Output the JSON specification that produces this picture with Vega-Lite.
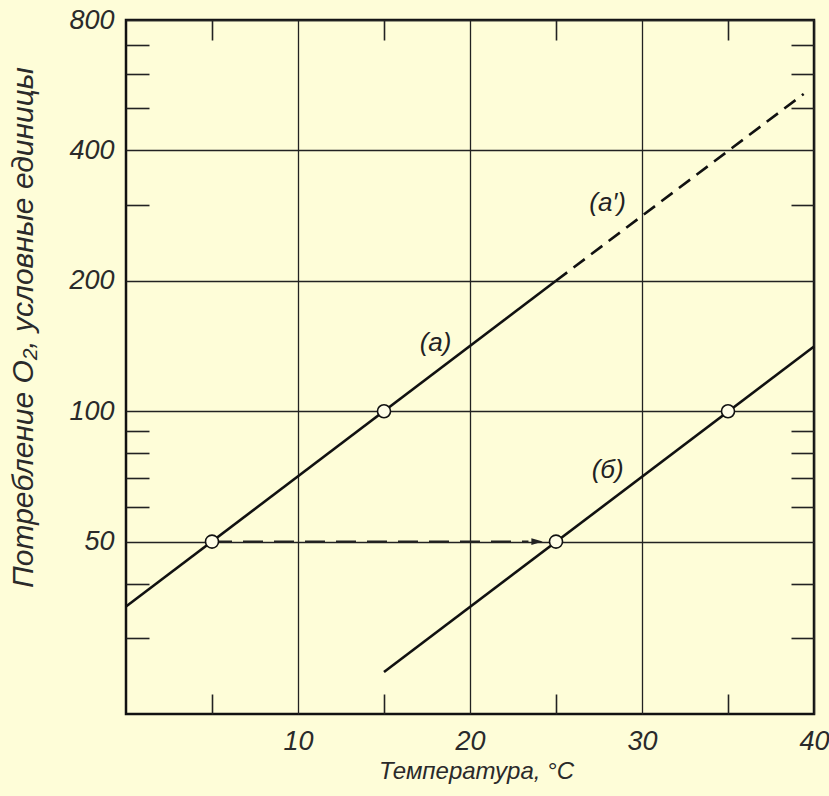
{
  "$schema": "https://vega.github.io/schema/vega-lite/v6.json",
  "width": 688,
  "height": 694,
  "autosize": "none",
  "padding": {"left": 126, "top": 20, "right": 15, "bottom": 82},
  "background": "#fefdd8",
  "config": {
    "view": {"stroke": "#111", "strokeWidth": 2.5},
    "font": "Liberation Sans",
    "axis": {
      "labelFont": "Liberation Sans", "labelFontStyle": "italic", "labelFontWeight": "normal", "labelFontSize": 27, "labelColor": "#2a2a2a",
      "titleFont": "Liberation Sans", "titleFontStyle": "italic", "titleFontWeight": "normal", "titleFontSize": 24, "titleColor": "#2a2a2a",
      "tickColor": "#222", "tickWidth": 1.6, "gridColor": "#222", "gridWidth": 1.3, "domain": false
    }
  },
  "datasets": {
    "lineA": [{"t": 0, "o2": 35.4}, {"t": 25, "o2": 200}],
    "lineA2": [{"t": 25, "o2": 200}, {"t": 39.4, "o2": 540}],
    "lineB": [{"t": 15, "o2": 25}, {"t": 40, "o2": 141}],
    "arrow": [{"t": 5, "o2": 50}, {"t": 23.4, "o2": 50}],
    "head": [{"t": 23.9, "o2": 50}],
    "pts": [{"t": 5, "o2": 50}, {"t": 15, "o2": 100}, {"t": 25, "o2": 50}, {"t": 35, "o2": 100}],
    "labels": [{"t": 18.0, "o2": 144, "txt": "(а)"}, {"t": 28.0, "o2": 303, "txt": "(а′)"}, {"t": 28.0, "o2": 73, "txt": "(б)"}]
  },
  "resolve": {"axis": {"x": "independent", "y": "independent"}},
  "layer": [
    {
      "data": {"name": "lineA"},
      "mark": {"type": "line", "color": "#111", "strokeWidth": 2.6},
      "encoding": {
        "x": {"field": "t", "type": "quantitative", "scale": {"domain": [0, 40], "nice": false, "zero": false},
          "title": "Температура, °C",
          "axis": {"orient": "bottom", "values": [5, 10, 15, 20, 25, 30, 35, 40],
            "labelExpr": "datum.value % 10 == 0 ? datum.label : ''",
            "tickSize": {"condition": {"test": "datum.value % 10 != 0", "value": -20}, "value": 0},
            "grid": true,
            "gridOpacity": {"condition": {"test": "datum.value % 10 != 0", "value": 0}, "value": 1},
            "labelPadding": 14, "titlePadding": 5, "titleX": 350, "labelFlush": false}},
        "y": {"field": "o2", "type": "quantitative", "scale": {"type": "log", "domain": [20, 800], "nice": false, "zero": false},
          "title": "Потребление O₂, условные единицы",
          "axis": {"orient": "left", "values": [30, 40, 50, 60, 70, 80, 90, 100, 200, 300, 400, 500, 600, 700, 800],
            "format": "d",
            "labelExpr": "indexof([50,100,200,400,800], datum.value) >= 0 ? datum.label : ''",
            "tickSize": {"condition": {"test": "indexof([50,100,200,400,800], datum.value) < 0", "value": -23}, "value": 0},
            "grid": true,
            "gridOpacity": {"condition": {"test": "indexof([50,100,200,400,800], datum.value) < 0", "value": 0}, "value": 1},
            "labelPadding": 12, "labelFlush": false,
            "titleFontSize": 30,
            "titleX": -103, "titleY": 307, "titleBaseline": "middle", "titleAngle": -90}}
      }
    },
    {
      "data": {"name": "lineA2"},
      "mark": {"type": "line", "color": "#111", "strokeWidth": 2.6, "strokeDash": [14, 8]},
      "encoding": {
        "x": {"field": "t", "type": "quantitative",
          "axis": {"orient": "top", "values": [5, 15, 25, 35], "labels": false, "grid": false, "tickSize": -20, "title": null}},
        "y": {"field": "o2", "type": "quantitative",
          "axis": {"orient": "right", "values": [30, 40, 60, 70, 80, 90, 300, 500, 600, 700], "labels": false, "grid": false, "tickSize": -23, "title": null}}
      }
    },
    {
      "data": {"name": "lineB"},
      "mark": {"type": "line", "color": "#111", "strokeWidth": 2.6},
      "encoding": {
        "x": {"field": "t", "type": "quantitative", "axis": null},
        "y": {"field": "o2", "type": "quantitative", "axis": null}
      }
    },
    {
      "data": {"name": "arrow"},
      "mark": {"type": "line", "color": "#222", "strokeWidth": 2.4, "strokeDash": [20, 11]},
      "encoding": {
        "x": {"field": "t", "type": "quantitative", "axis": null},
        "y": {"field": "o2", "type": "quantitative", "axis": null}
      }
    },
    {
      "data": {"name": "head"},
      "mark": {"type": "point", "shape": "M-1,-0.6L1,0L-1,0.6Z", "size": 130, "filled": true, "color": "#222", "opacity": 1},
      "encoding": {
        "x": {"field": "t", "type": "quantitative", "axis": null},
        "y": {"field": "o2", "type": "quantitative", "axis": null}
      }
    },
    {
      "data": {"name": "pts"},
      "mark": {"type": "point", "shape": "circle", "size": 170, "filled": true, "fill": "#fffee8", "stroke": "#111", "strokeWidth": 1.6, "opacity": 1},
      "encoding": {
        "x": {"field": "t", "type": "quantitative", "axis": null},
        "y": {"field": "o2", "type": "quantitative", "axis": null}
      }
    },
    {
      "data": {"name": "labels"},
      "mark": {"type": "text", "font": "Liberation Sans", "fontStyle": "italic", "fontSize": 26, "color": "#222"},
      "encoding": {
        "x": {"field": "t", "type": "quantitative", "axis": null},
        "y": {"field": "o2", "type": "quantitative", "axis": null},
        "text": {"field": "txt"}
      }
    }
  ]
}
